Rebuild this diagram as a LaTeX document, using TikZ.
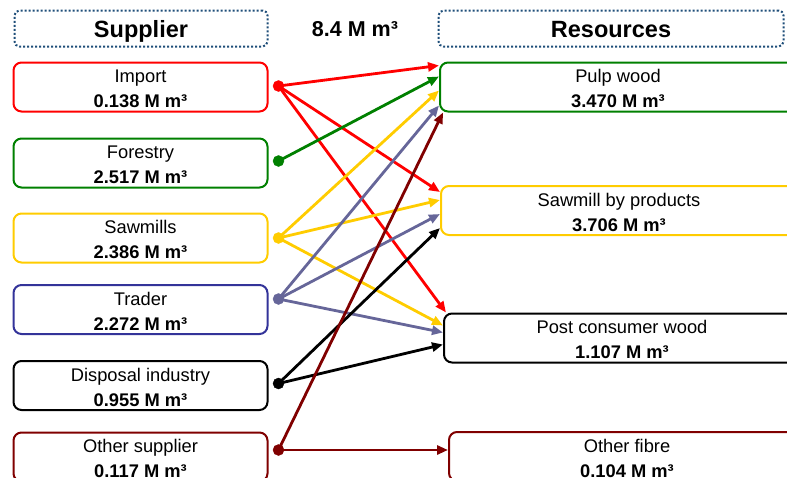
\documentclass[tikz,border=0pt]{standalone}
\usepackage{fontspec}
\setmainfont{Liberation Sans}
\usetikzlibrary{arrows.meta}
\definecolor{hdrblue}{HTML}{1F4E79}
\definecolor{flowred}{HTML}{FF0000}
\definecolor{flowgreen}{HTML}{008000}
\definecolor{flowyellow}{HTML}{FFCC00}
\definecolor{traderblue}{HTML}{333399}
\definecolor{flowslate}{HTML}{666699}
\definecolor{flowdark}{HTML}{800000}
\newcommand{\boxlabel}[2]{\rule{0pt}{17pt}#1\\\textbf{#2}}
\begin{document}
\begin{tikzpicture}[x=1pt,y=-1pt,
    header/.style={draw=hdrblue, line width=2pt, dash pattern=on 2pt off 2pt,
        rounded corners=5pt, minimum height=36pt, inner sep=0pt,
        text height=18pt, text depth=0pt, font=\fontsize{23.5}{28}\selectfont\bfseries},
    supbox/.style={draw, line width=2pt, rounded corners=8pt, minimum width=254pt,
        minimum height=49pt, inner sep=0pt, align=center, font=\fontsize{18.3}{25}\selectfont},
    resbox/.style={supbox, minimum width=356pt, anchor=west},
    flow/.style={line width=2.8pt, -{Triangle[length=11pt,width=9pt]}}
]
\clip (0,0) rectangle (787,477);

\node[header, minimum width=253pt] (suphead) at (141,28.5) {Supplier};
\node[font=\fontsize{21.5}{26}\selectfont\bfseries] (total) at (355,29) {8.4 M m³};
\node[header, minimum width=345pt] (reshead) at (611,28.5) {Resources};

\node[supbox, draw=flowred] (imp) at (140.5,87) {\boxlabel{Import}{0.138 M m³}};
\node[supbox, draw=flowgreen] (frst) at (140.5,163) {\boxlabel{Forestry}{2.517 M m³}};
\node[supbox, draw=flowyellow] (sawm) at (140.5,238) {\boxlabel{Sawmills}{2.386 M m³}};
\node[supbox, draw=traderblue] (trad) at (140.5,309.5) {\boxlabel{Trader}{2.272 M m³}};
\node[supbox, draw=black] (disp) at (140.5,385.5) {\boxlabel{Disposal industry}{0.955 M m³}};
\node[supbox, draw=flowdark] (othsup) at (140.5,457) {\boxlabel{Other supplier}{0.117 M m³}};

\node[resbox, draw=flowgreen] (pulp) at (439,87) {\boxlabel{Pulp wood}{3.470 M m³}};
\node[resbox, draw=flowyellow] (sawby) at (440,210.5) {\boxlabel{Sawmill by products}{3.706 M m³}};
\node[resbox, draw=black] (postc) at (443,338) {\boxlabel{Post consumer wood}{1.107 M m³}};
\node[resbox, draw=flowdark] (othfib) at (448,456.5) {\boxlabel{Other fibre}{0.104 M m³}};

\coordinate (impdot) at ([xshift=10pt,yshift=1pt]imp.east);
\coordinate (frstdot) at ([xshift=10pt,yshift=2pt]frst.east);
\coordinate (sawmdot) at ([xshift=10pt]sawm.east);
\coordinate (traddot) at ([xshift=10pt,yshift=10.5pt]trad.east);
\coordinate (dispdot) at ([xshift=10pt,yshift=2pt]disp.east);
\coordinate (othdot) at ([xshift=10pt,yshift=7pt]othsup.east);

\draw[flow, flowred] (impdot) -- ([yshift=-4pt]pulp.north west);
\draw[flow, flowred] (impdot) -- ([yshift=-7pt]sawby.north west);
\draw[flow, flowred] (impdot) -- ([xshift=3pt]postc.north west);
\draw[flow, flowgreen] (frstdot) -- ([yshift=-15pt]pulp.north west);
\draw[flow, flowyellow] (sawmdot) -- ([yshift=-29pt]pulp.north west);
\draw[flow, flowyellow] (sawmdot) -- ([yshift=-15pt]sawby.north west);
\draw[flow, flowyellow] (sawmdot) -- ([yshift=-13pt]postc.north west);
\draw[flow, flowslate] (traddot) -- ([yshift=-44pt]pulp.north west);
\draw[flow, flowslate] (traddot) -- ([yshift=-29pt]sawby.north west);
\draw[flow, flowslate] (traddot) -- ([yshift=-20pt]postc.north west);
\draw[flow, black] (dispdot) -- ([yshift=-43pt]sawby.north west);
\draw[flow, black] (dispdot) -- ([yshift=-32pt]postc.north west);
\draw[flow, flowdark] (othdot) -- ([xshift=4pt]pulp.south west);
\draw[flow, flowdark] (othdot) -- ([yshift=-19pt]othfib.north west);

\filldraw[flowred] (impdot) circle (5.5pt);
\filldraw[flowgreen] (frstdot) circle (5.5pt);
\filldraw[flowyellow] (sawmdot) circle (5.5pt);
\filldraw[flowslate] (traddot) circle (5.5pt);
\filldraw[black] (dispdot) circle (5.5pt);
\filldraw[flowdark] (othdot) circle (5.5pt);
\end{tikzpicture}
\end{document}
